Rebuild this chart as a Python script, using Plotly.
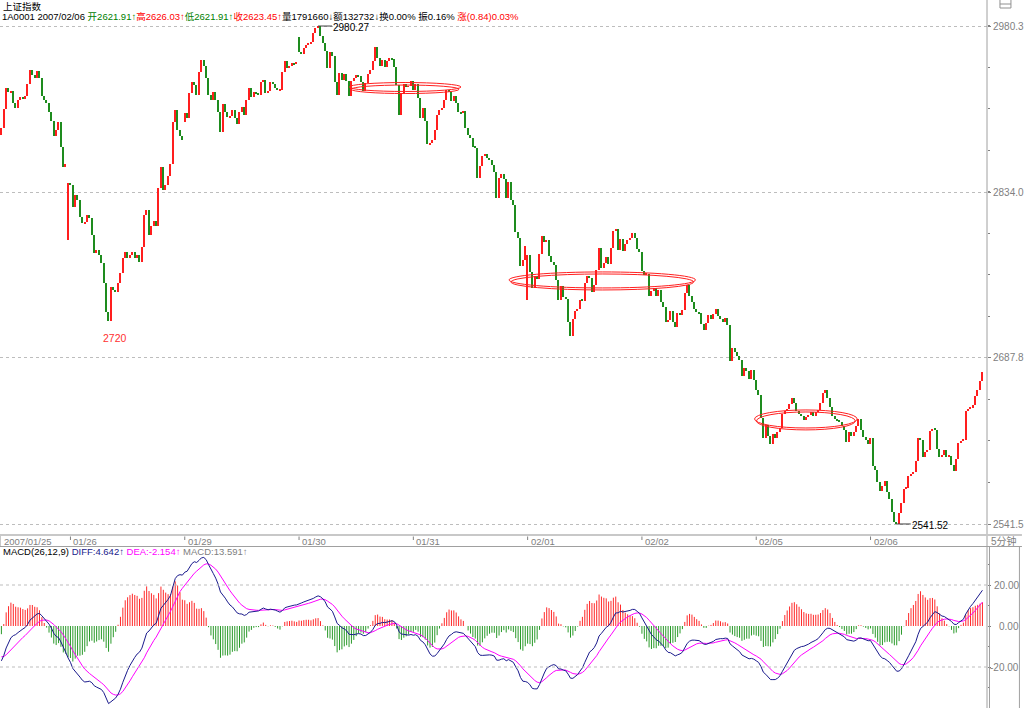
import plotly.graph_objects as go

# ---------------------------------------------------------------- data ----
day_labels = ["2007/01/25", "'01/26", "'01/29", "'01/30", "'01/31",
              "'02/01", "'02/02", "'02/05", "'02/06"]

# 5-minute closes of 上证指数, one list per trading day
close_0125 = [2890.4, 2907.2, 2925.7, 2922.1, 2923.0, 2912.5, 2908.1, 2915.1, 2917.7, 2916.0,
              2918.6, 2929.2, 2941.5, 2937.1, 2934.5, 2940.6, 2934.5, 2918.6, 2915.1, 2912.5,
              2904.5, 2896.6, 2883.4, 2888.7, 2895.7, 2873.7, 2856.1, 2858.7, 2842.0]
close_0126 = [2840.2, 2820.8, 2831.4, 2827.0, 2812.0, 2806.7, 2807.6, 2813.8, 2811.1, 2796.2,
              2780.3, 2782.9, 2778.5, 2771.5, 2753.9, 2728.3, 2720.4, 2750.4, 2747.7, 2745.9,
              2753.9, 2762.7, 2775.9, 2781.2, 2775.9, 2778.5, 2781.2, 2775.9, 2778.5, 2772.4,
              2785.6, 2813.8, 2818.2, 2796.2, 2804.1, 2808.5, 2804.1, 2837.6, 2856.1, 2835.8,
              2840.2, 2848.1, 2858.7, 2895.7, 2906.3, 2888.7, 2883.4, 2879.9]
close_0129 = [2903.6, 2899.2, 2921.3, 2931.0, 2928.3, 2919.5, 2939.8, 2950.3, 2945.1, 2934.5,
              2919.5, 2915.1, 2922.1, 2915.1, 2904.5, 2886.9, 2911.6, 2904.5, 2900.1, 2901.0,
              2906.3, 2899.2, 2894.0, 2904.5, 2908.9, 2901.9, 2915.1, 2925.7, 2917.7, 2922.1,
              2920.4, 2919.5, 2931.0, 2932.7, 2921.3, 2923.0, 2931.0, 2929.2, 2925.7, 2923.9,
              2923.9, 2939.8, 2949.5, 2943.3, 2945.1, 2947.7, 2946.8, 2948.6]
close_0130 = [2957.4, 2955.6, 2960.9, 2963.6, 2965.3, 2966.2, 2974.1, 2978.5, 2980.27, 2971.5,
              2965.3, 2958.3, 2943.3, 2957.4, 2953.9, 2931.0, 2919.5, 2938.9, 2932.7, 2938.0,
              2931.8, 2918.6, 2931.8, 2934.5, 2937.1, 2936.2, 2931.0, 2923.0, 2930.1, 2938.0,
              2941.5, 2949.5, 2961.8, 2952.1, 2945.1, 2950.3, 2944.2, 2949.5, 2952.1, 2951.2,
              2944.2, 2928.3, 2901.9, 2921.3, 2929.2, 2926.6, 2927.4, 2931.8]
close_0131 = [2923.9, 2929.2, 2916.9, 2899.2, 2908.1, 2896.6, 2876.3, 2877.2, 2879.9, 2888.7,
              2901.9, 2906.3, 2908.1, 2915.1, 2923.9, 2922.1, 2914.2, 2918.6, 2912.5, 2904.5,
              2903.6, 2905.4, 2890.4, 2884.3, 2881.6, 2873.7, 2872.8, 2846.4, 2857.0, 2865.8,
              2867.5, 2864.0, 2862.2, 2857.8, 2851.7, 2828.8, 2846.4, 2849.9, 2845.5, 2828.8,
              2842.9, 2827.0, 2822.6, 2798.8, 2793.5, 2768.9, 2774.1, 2786.5]
close_0201 = [2778.5, 2763.6, 2749.5, 2760.0, 2757.4, 2779.4, 2795.3, 2790.0, 2791.8, 2777.7,
              2772.4, 2769.7, 2756.5, 2738.9, 2751.2, 2741.5, 2739.8, 2719.5, 2707.2, 2722.2,
              2729.2, 2731.0, 2738.9, 2738.0, 2753.9, 2760.0, 2758.3, 2745.9, 2752.1, 2765.3,
              2784.7, 2767.1, 2771.5, 2776.8, 2770.6, 2784.7, 2799.7, 2801.5, 2782.9, 2792.6,
              2782.1, 2788.2, 2791.8, 2793.5, 2797.9, 2793.5, 2783.8, 2781.2]
close_0202 = [2764.4, 2760.9, 2761.8, 2742.4, 2746.8, 2749.5, 2742.4, 2747.7, 2737.1, 2732.7,
              2719.5, 2721.3, 2729.2, 2719.5, 2715.1, 2727.4, 2725.7, 2730.1, 2745.1, 2752.1,
              2742.4, 2737.1, 2731.0, 2728.3, 2727.4, 2717.8, 2712.5, 2718.6, 2725.7, 2722.2,
              2726.6, 2731.0, 2724.8, 2722.2, 2719.5, 2723.0, 2716.9, 2685.2, 2696.6, 2693.1,
              2689.6, 2686.0, 2671.9, 2679.0, 2676.3, 2669.3, 2677.2, 2668.4]
close_0205 = [2659.6, 2655.2, 2634.9, 2617.3, 2628.8, 2619.1, 2612.0, 2620.8, 2617.3, 2622.6,
              2626.1, 2638.5, 2641.1, 2642.9, 2647.3, 2652.6, 2648.2, 2641.1, 2638.5, 2636.7,
              2633.2, 2635.8, 2637.6, 2640.2, 2636.7, 2640.2, 2642.0, 2648.2, 2657.0, 2659.6,
              2652.6, 2644.6, 2636.7, 2634.1, 2632.3, 2631.4, 2627.9, 2624.4, 2613.8, 2622.6,
              2619.1, 2622.6, 2627.9, 2634.1, 2624.4, 2618.2, 2615.6, 2612.0]
close_0206 = [2617.3, 2592.7, 2589.1, 2578.6, 2570.6, 2575.0, 2579.4, 2569.7, 2563.6, 2552.1,
              2543.3, 2541.52, 2551.2, 2560.1, 2572.4, 2573.3, 2583.8, 2585.6, 2587.4, 2597.1,
              2617.3, 2615.6, 2600.6, 2605.0, 2606.7, 2623.5, 2625.3, 2624.4, 2607.6, 2600.6,
              2602.3, 2606.7, 2600.6, 2601.5, 2593.5, 2588.2, 2598.8, 2612.9, 2614.7, 2615.6,
              2641.1, 2642.9, 2643.8, 2646.4, 2654.3, 2659.6, 2667.5, 2675.5]

day_closes = [close_0125, close_0126, close_0129, close_0130, close_0131,
              close_0201, close_0202, close_0205, close_0206]

# bars whose open is not the previous close: (day, bar) -> open
gap_opens = {(0, 0): 2884.3, (0, 28): 2791.8, (2, 0): 2895.7,
             (3, 0): 2970.6, (5, 0): 2738.9}

price_ticks = [2541.5, 2687.8, 2834.0, 2980.3]
macd_ticks = [20, 0, -20]
macd_tick_text = ["20.00", "0.00", "-20.00"]
macd_grid = [20, -20]
diff_start, dea_start = -17.0, -15.0          # indicator values at first bar
low_label = "2720"

title_text = "上证指数"
info_parts = [("1A0001 2007/02/06 ", "#000000"), ("开2621.91↑", "#008000"),
              ("高2626.03↑", "#ff0000"), ("低2621.91↑", "#008000"),
              ("收2623.45↑", "#ff0000"), ("量1791660↓额132732↓换0.00% 振0.16% ", "#000000"),
              ("涨(0.84)0.03%", "#ff0000")]
macd_parts = [("MACD(26,12,9) ", "#000000"), ("DIFF:4.642↑ ", "#1a1a8c"),
              ("DEA:-2.154↑ ", "#ff00ff"), ("MACD:13.591↑", "#808080")]
period_label = "5分钟"

# ------------------------------------------------------------ build -------
closes, opens, day_start = [], [], []
for d, day in enumerate(day_closes):
    day_start.append(len(closes))
    for k, c in enumerate(day):
        o = gap_opens.get((d, k), closes[-1] if closes else c)
        opens.append(o)
        closes.append(c)
n = len(closes)
idx = list(range(n))

# MACD(26,12,9)
a12, a26, a9 = 2 / 13, 2 / 27, 2 / 10
e12, e26 = closes[0], closes[0] - diff_start
dea_v = dea_start
diff, dea, macd = [], [], []
for i, c in enumerate(closes):
    if i > 0:
        e12 = a12 * c + (1 - a12) * e12
        e26 = a26 * c + (1 - a26) * e26
    d_ = e12 - e26
    if i > 0:
        dea_v = a9 * d_ + (1 - a9) * dea_v
    diff.append(d_)
    dea.append(dea_v)
    macd.append(2 * (d_ - dea_v))

# ------------------------------------------------------------ layout ------
W, H = 1024, 708
PR = 989                      # right edge of plot area, px
BAR_PX = 2.386                # px per 5-minute bar
X0 = -1.4 / BAR_PX
xr = [X0, X0 + PR / BAR_PX]
PSCALE = (2980.3 - 2541.5) / 498.0      # price per px
p_top = 2980.3 + 6 * PSCALE
p_bot = 2541.5 - 11 * PSCALE
MSCALE = 20 / 41.0
m_top = (626 - 547) * MSCALE
m_bot = -(708 - 626) * MSCALE


def xp(px):
    return px / PR


def yp(py):
    return 1 - py / H


UP, DOWN = "#ff1e1e", "#1e8c1e"
FONT = "Liberation Sans, Noto Sans CJK SC, sans-serif"
GRAY = "#808080"

fig = go.Figure()

lo = [min(o, c) for o, c in zip(opens, closes)]
ht = [max(abs(c - o), 0.6) for o, c in zip(opens, closes)]
col = [UP if c >= o else DOWN for o, c in zip(opens, closes)]
fig.add_trace(go.Bar(x=idx, y=ht, base=lo, width=0.62, marker=dict(color=col, line_width=0),
                     xaxis="x", yaxis="y", hoverinfo="skip"))


# MACD histogram as thin vertical strokes
def stems(sign):
    xs, ys = [], []
    for i, m in zip(idx, macd):
        if (m >= 0) == sign:
            xs += [i, i, None]
            ys += [0, m, None]
    return xs, ys


for sign, c in ((True, "#ff2a2a"), (False, "#2a9a2a")):
    sx, sy = stems(sign)
    fig.add_trace(go.Scatter(x=sx, y=sy, mode="lines", line=dict(color=c, width=1),
                             xaxis="x2", yaxis="y2", hoverinfo="skip", connectgaps=False))
fig.add_trace(go.Scatter(x=idx, y=dea, mode="lines", line=dict(color="#ff00ff", width=1),
                         xaxis="x2", yaxis="y2", hoverinfo="skip"))
fig.add_trace(go.Scatter(x=idx, y=diff, mode="lines", line=dict(color="#1a1a8c", width=1),
                         xaxis="x2", yaxis="y2", hoverinfo="skip"))

shapes = []
ann = []

# frame lines
shapes.append(dict(type="line", xref="paper", yref="paper", x0=1, x1=1, y0=yp(0), y1=yp(708),
                   line=dict(color="#a0a0a0", width=1)))
shapes.append(dict(type="line", xref="paper", yref="paper", x0=xp(991.5), x1=xp(991.5),
                   y0=yp(547), y1=yp(708), line=dict(color="#a0a0a0", width=1)))
shapes.append(dict(type="line", xref="paper", yref="paper", x0=xp(1021.5), x1=xp(1021.5),
                   y0=yp(547), y1=yp(708), line=dict(color="#a0a0a0", width=1)))
shapes.append(dict(type="line", xref="paper", yref="paper", x0=0, x1=xp(1024),
                   y0=yp(535), y1=yp(535), line=dict(color="#c8c8c8", width=2)))
shapes.append(dict(type="line", xref="paper", yref="paper", x0=0, x1=xp(1024),
                   y0=yp(546.5), y1=yp(546.5), line=dict(color="#a0a0a0", width=1)))
shapes.append(dict(type="line", xref="paper", yref="paper", x0=xp(0.5), x1=xp(0.5),
                   y0=yp(536), y1=yp(546), line=dict(color="#c8c8c8", width=1)))
# small icon at the top right
shapes.append(dict(type="rect", xref="paper", yref="paper", x0=xp(1002), x1=xp(1013),
                   y0=yp(-1), y1=yp(8), line=dict(color="#909090", width=1)))
shapes.append(dict(type="line", xref="paper", yref="paper", x0=xp(1002), x1=xp(1013),
                   y0=yp(4), y1=yp(4), line=dict(color="#909090", width=1)))

# MACD dotted grid
for g in macd_grid:
    shapes.append(dict(type="line", xref="paper", yref="y2", x0=0, x1=1, y0=g, y1=g,
                       line=dict(color="#bdbdbd", width=1, dash="dot")))

# hand-drawn red ellipses (bar index, price)
ellipses = [(146.1, 193.0, 2922.6, 2930.5), (146.9, 192.2, 2920.8, 2928.3),
            (213.2, 291.5, 2749.5, 2763.6), (214.0, 290.7, 2747.7, 2761.8),
            (316.3, 359.4, 2626.1, 2642.0), (317.1, 358.6, 2624.4, 2640.2)]
for x0, x1, y0, y1 in ellipses:
    shapes.append(dict(type="circle", xref="x", yref="y", x0=x0, x1=x1, y0=y0, y1=y1,
                       line=dict(color="#ff2020", width=1)))

# day ticks and labels
for j, (s, lab) in enumerate(zip(day_start, day_labels)):
    if j > 0:
        shapes.append(dict(type="line", xref="x", yref="paper", x0=s, x1=s,
                           y0=yp(536.5), y1=yp(540), line=dict(color=GRAY, width=1)))
        txt = lab[1:]
    else:
        txt = lab
    ann.append(dict(x=s, y=yp(541), xref="x", yref="paper", text=txt, showarrow=False,
                    xanchor="left", yanchor="middle", xshift=1,
                    font=dict(family=FONT, size=9.5, color=GRAY)))

ann.append(dict(x=xp(1006), y=yp(541), xref="paper", yref="paper", text=period_label,
                showarrow=False, xanchor="center", yanchor="middle",
                font=dict(family=FONT, size=10, color=GRAY)))

# high / low marks
hi_i = max(idx, key=lambda i: closes[i])
lo_i = min(idx, key=lambda i: closes[i])
for i_, dy in ((hi_i, 1.5), (lo_i, 2)):
    shapes.append(dict(type="line", xref="x", yref="y", xsizemode="pixel", xanchor=i_,
                       x0=0, x1=14, y0=closes[i_], y1=closes[i_],
                       line=dict(color="#404040", width=1)))
    ann.append(dict(x=i_, y=closes[i_], xref="x", yref="y", text=f"{closes[i_]:.2f}",
                    showarrow=False, xanchor="left", yanchor="middle", xshift=14, yshift=-dy,
                    borderpad=0, font=dict(family=FONT, size=10, color="#000000")))
d1 = day_start[1]
low1 = min(range(d1, day_start[2]), key=lambda i: closes[i])
ann.append(dict(x=low1, y=closes[low1], xref="x", yref="y", text=low_label, showarrow=False,
                xanchor="center", yanchor="middle", xshift=6, yshift=-17,
                font=dict(family=FONT, size=10.5, color="#ff3030")))

# MACD tick labels (right aligned)
for v, t in zip(macd_ticks, macd_tick_text):
    ann.append(dict(x=xp(1023), y=v, xref="paper", yref="y2", text=t, showarrow=False,
                    xanchor="right", yanchor="middle",
                    font=dict(family=FONT, size=10, color=GRAY)))

# header texts
ann.append(dict(x=xp(2), y=yp(5.5), xref="paper", yref="paper", text=title_text,
                showarrow=False, xanchor="left", yanchor="middle", borderpad=0,
                font=dict(family="Noto Sans CJK SC", size=9.5, color="#000000")))
info_html = "".join(f"<span style='color:{c}'>{t}</span>" for t, c in info_parts)
ann.append(dict(x=xp(1), y=yp(16.5), xref="paper", yref="paper", text=info_html,
                showarrow=False, xanchor="left", yanchor="middle", borderpad=0,
                font=dict(family=FONT, size=9.5, color="#000000")))
macd_html = "".join(f"<span style='color:{c}'>{t}</span>" for t, c in macd_parts)
ann.append(dict(x=xp(1), y=yp(551.5), xref="paper", yref="paper", text=macd_html,
                showarrow=False, xanchor="left", yanchor="middle",
                font=dict(family=FONT, size=9.5, color="#000000")))

axis_common = dict(range=xr, showgrid=False, zeroline=False, showticklabels=False,
                   showline=False, ticks="")
fig.update_layout(
    width=W, height=H, margin=dict(l=0, r=W - PR, t=0, b=0),
    paper_bgcolor="white", plot_bgcolor="white", showlegend=False,
    barmode="overlay", bargap=0,
    xaxis=dict(domain=[0, 1], anchor="y", **axis_common),
    xaxis2=dict(domain=[0, 1], anchor="y2", **axis_common),
    yaxis=dict(domain=[yp(535), yp(20)], range=[p_bot, p_top], side="right",
               tickvals=price_ticks, ticktext=[f"{v:.1f}" for v in price_ticks],
               ticks="outside", ticklen=3, tickcolor=GRAY,
               tickfont=dict(family=FONT, size=10, color=GRAY),
               showgrid=True, gridcolor="#bdbdbd", griddash="dot", gridwidth=1,
               zeroline=False, showline=False,
               minor=dict(ticks="outside", ticklen=2, tickcolor=GRAY, showgrid=False,
                          tick0=price_ticks[0], dtick=(price_ticks[1] - price_ticks[0]) / 4)),
    yaxis2=dict(domain=[0, yp(547)], range=[m_bot, m_top], side="right",
                tickvals=macd_ticks, showticklabels=False, ticks="outside", ticklen=3,
                tickcolor=GRAY, showgrid=False, zeroline=False, showline=False,
                minor=dict(ticks="outside", ticklen=2, tickcolor=GRAY, showgrid=False,
                           tick0=0, dtick=10)),
    shapes=shapes, annotations=ann,
)

fig.write_html("out.html", config={"displayModeBar": False},
               post_script="document.body.style.margin='0';")
